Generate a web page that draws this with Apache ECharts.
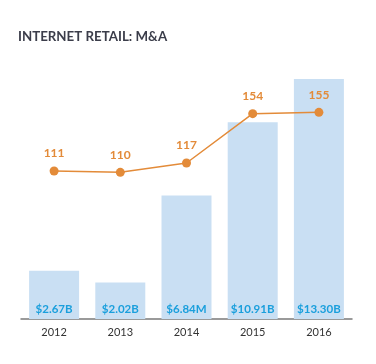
<!DOCTYPE html>
<html><head><meta charset="utf-8">
<script src="https://cdn.jsdelivr.net/npm/echarts@6/dist/echarts.min.js"></script>
<style>html,body{margin:0;padding:0;background:#fff}#c{width:376px;height:364px}</style>
</head><body><div id="c"></div>
<script>
var years = ['2012','2013','2014','2015','2016'];
var dealValues = [2.67, 2.02, 6.84, 10.91, 13.30];
var dealLabels = ['$2.67B','$2.02B','$6.84M','$10.91B','$13.30B'];
var dealCounts = [111, 110, 117, 154, 155];

var chart = echarts.init(document.getElementById('c'));
chart.setOption({
  animation: false,
  title: {
    text: 'INTERNET RETAIL: M&A', left: 13, top: 25,
    textStyle: {fontFamily: 'Lato', fontWeight: 'bold', fontSize: 13.3, color: '#3b3d4a'}
  },
  grid: {left: 21, right: 24, top: 79, bottom: 45},
  xAxis: {
    type: 'category', data: years,
    axisLine: {lineStyle: {color: '#7a7a7a', width: 1.5}},
    axisTick: {show: false},
    axisLabel: {color: '#333', fontFamily: 'Lato', fontSize: 11, margin: 8}
  },
  yAxis: [
    {type: 'value', min: 0, max: 13.3, show: false, splitLine: {show: false}},
    {type: 'value', min: 0, max: 180, show: false, splitLine: {show: false}}
  ],
  series: [
    {
      type: 'bar', data: dealValues, barWidth: 50, yAxisIndex: 0,
      itemStyle: {color: '#c9dff3'},
      label: {
        show: true, position: 'insideBottom', distance: 4,
        formatter: function (p) { return dealLabels[p.dataIndex]; },
        color: '#1a9fdc', fontWeight: 'bold', fontFamily: 'Lato', fontSize: 11.5
      }
    },
    {
      type: 'line', data: dealCounts, yAxisIndex: 1,
      symbol: 'circle', symbolSize: 9,
      lineStyle: {color: '#e38b39', width: 1.5},
      itemStyle: {color: '#e38b39'},
      label: {
        show: true, position: 'top', distance: 7,
        color: '#e38b39', fontWeight: 'bold', fontFamily: 'Lato', fontSize: 12
      }
    }
  ]
});
</script></body></html>
